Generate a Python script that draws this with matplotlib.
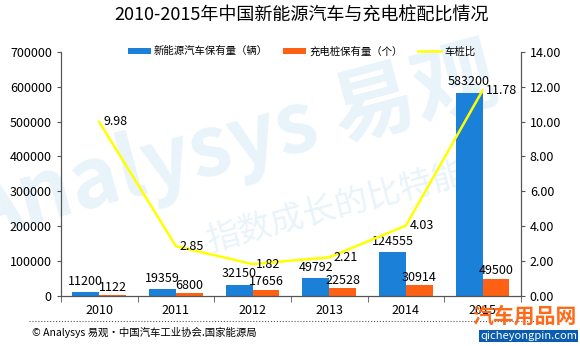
import matplotlib.pyplot as plt
import numpy as np

plt.rcParams['font.family'] = ['Noto Sans CJK SC', 'DejaVu Sans']

years = ["2010", "2011", "2012", "2013", "2014", "2015"]
ev_stock = [11200, 19359, 32150, 49792, 124555, 583200]
pile_stock = [1122, 6800, 17656, 22528, 30914, 49500]
ratio = [9.98, 2.85, 1.82, 2.21, 4.03, 11.78]

blue = "#1a80d8"
orange = "#ff6114"
yellow = "#ffff00"

fig = plt.figure(figsize=(5.8, 3.46), dpi=100)
ax = fig.add_axes([0.105, 0.145, 0.793, 0.705])
ax2 = ax.twinx()

# 背景水印
fig.text(0.40, 0.58, "Analysys 易观", fontsize=60, color="#e8f3fa",
         rotation=15, ha="center", va="center", zorder=-1, fontweight="bold")
fig.text(0.58, 0.40, "指数成长的比特能", fontsize=24, color="#e8f3fa",
         rotation=15, ha="center", va="center", zorder=-1)

x = np.arange(len(years))
w = 0.35
ax.bar(x - w / 2, ev_stock, w, color=blue, label="新能源汽车保有量（辆）", zorder=2)
ax.bar(x + w / 2, pile_stock, w, color=orange, label="充电桩保有量（个）", zorder=2)
ax2.plot(x, ratio, color=yellow, lw=1.8, label="车桩比", zorder=3)

for i in range(len(years)):
    ax.text(x[i] - w / 2, ev_stock[i] + 12000, str(ev_stock[i]), ha="center",
            va="bottom", fontsize=9)
    ax.text(x[i] + w / 2, pile_stock[i] + 4000, str(pile_stock[i]), ha="center",
            va="bottom", fontsize=9)
    ax2.text(x[i] + 0.05, ratio[i], "%.2f" % ratio[i], ha="left", va="center",
             fontsize=9)

ax.set_xlim(-0.5, 5.5)
ax.set_ylim(0, 700000)
ax.set_yticks(range(0, 700001, 100000))
ax.set_yticklabels([str(v) for v in range(0, 700001, 100000)], fontsize=9)
ax2.set_ylim(0, 14)
ax2.set_yticks(range(0, 15, 2))
ax2.set_yticklabels(["%.2f" % v for v in range(0, 15, 2)], fontsize=9)

ax.set_xticks(x)
ax.set_xticklabels(years, fontsize=9)
ax.tick_params(axis="x", length=0, pad=6)
ax.set_xticks(np.arange(-0.5, 6, 1), minor=True)
ax.tick_params(axis="x", which="minor", length=4, color="#555555")
ax.tick_params(axis="y", length=3, color="#555555")
ax2.tick_params(axis="y", length=3, color="#555555")

for a in (ax, ax2):
    a.spines["top"].set_visible(False)
    for s in ("left", "right", "bottom"):
        a.spines[s].set_color("#555555")
ax.patch.set_visible(False)

h1, l1 = ax.get_legend_handles_labels()
h2, l2 = ax2.get_legend_handles_labels()
fig.legend(h1 + h2, l1 + l2, loc="center", bbox_to_anchor=(0.52, 0.852), ncol=3,
           frameon=False, fontsize=7.5, handlelength=2.2, handleheight=0.5,
           columnspacing=1.5, handletextpad=0.3)

fig.text(0.52, 0.955, "2010-2015年中国新能源汽车与充电桩配比情况", ha="center",
         va="center", fontsize=13)

fig.add_artist(plt.Line2D([0.05, 0.93], [0.072, 0.072], color="#555555", lw=0.8,
                          ls=":"))
fig.text(0.055, 0.038, "© Analysys 易观·中国汽车工业协会.国家能源局", fontsize=7.5,
         va="center", ha="left")

# 右下角标识
fig.text(0.995, 0.085, "汽车用品网", fontsize=15, color="#ff6a1a", fontweight="bold",
         ha="right", va="center")
fig.text(0.995, 0.03, "qicheyongpin.com", fontsize=8, color="white", ha="right",
         va="center", bbox=dict(boxstyle="square,pad=0.1", fc="#0a5cb0", ec="none"))

fig.savefig("out.png", dpi=100)
